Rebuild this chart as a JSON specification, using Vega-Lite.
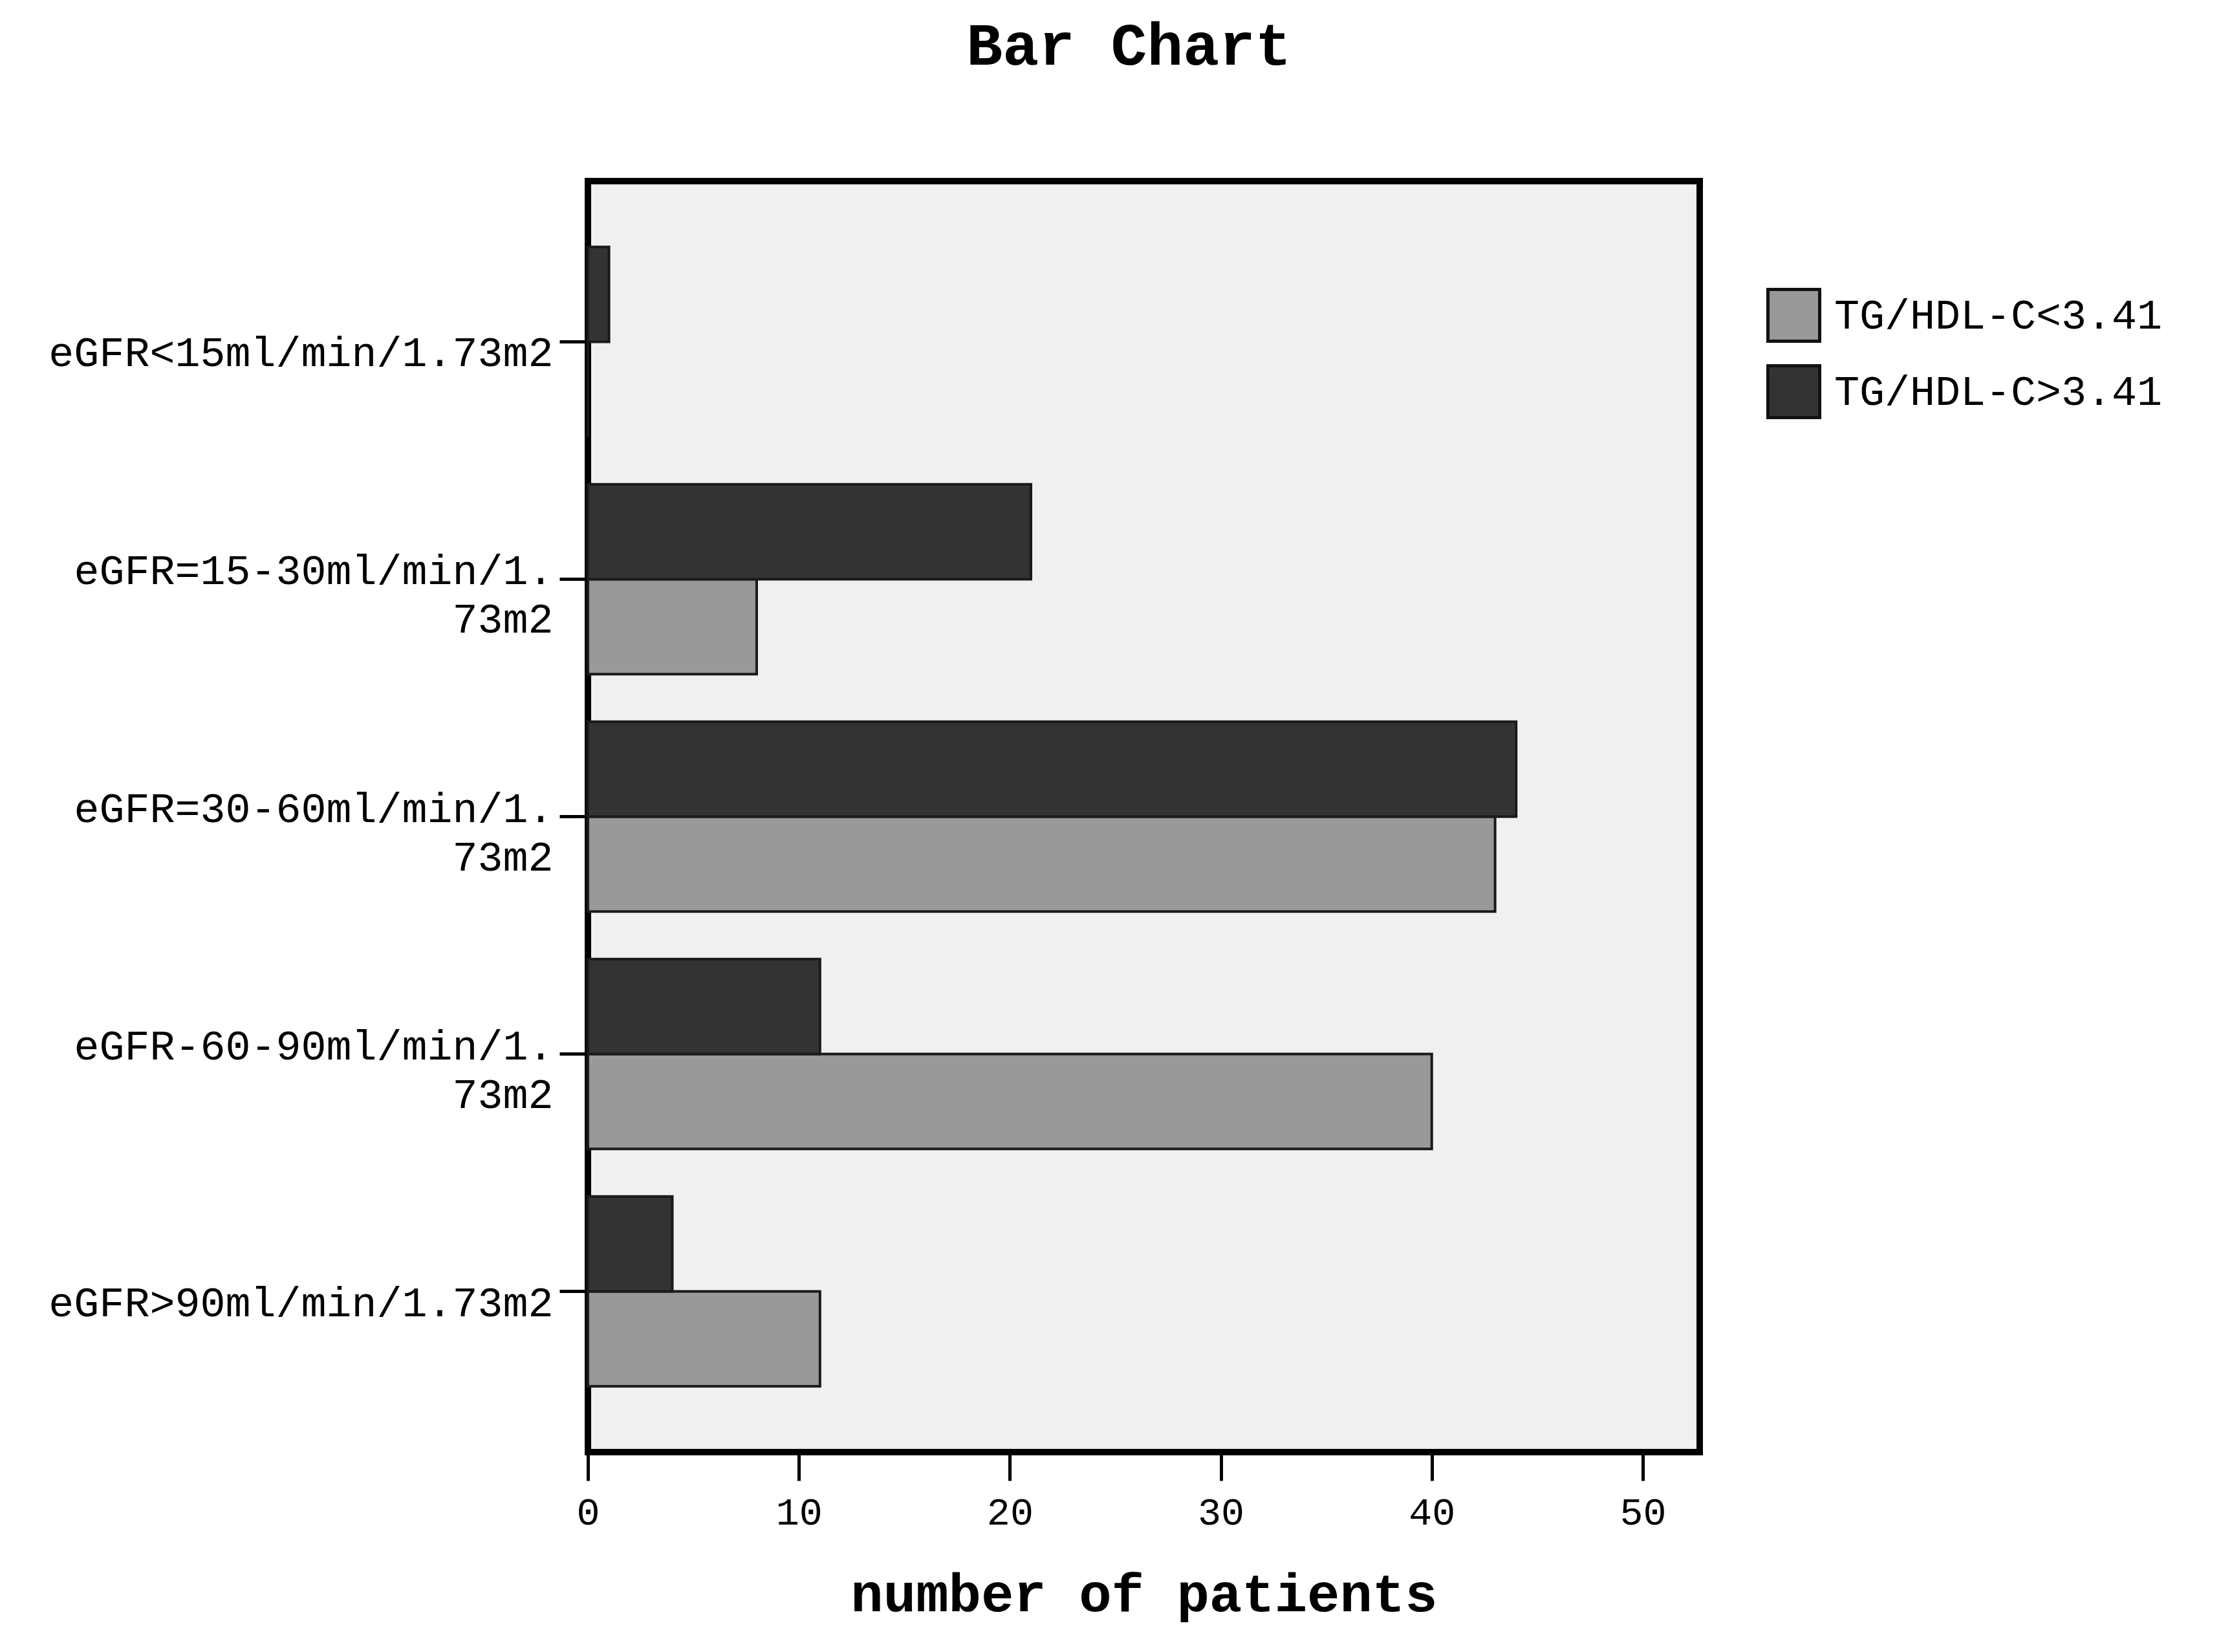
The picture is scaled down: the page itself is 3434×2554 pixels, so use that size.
{
  "$schema": "https://vega.github.io/schema/vega-lite/v6.json",
  "autosize": {"type": "none"},
  "padding": {"left": 909, "top": 280, "right": 806, "bottom": 309},
  "width": 1719,
  "height": 1965,
  "background": "white",
  "title": {
    "text": "Bar Chart",
    "font": "Liberation Mono",
    "fontSize": 93,
    "fontWeight": "bold",
    "color": "black",
    "anchor": "middle",
    "offset": 160,
    "dx": -23
  },
  "config": {
    "view": {"stroke": "black", "strokeWidth": 10, "fill": "#f0f0f0"}
  },
  "data": {
    "values": [
      {"eGFR": "eGFR<15ml/min/1.73m2", "group": "TG/HDL-C<3.41", "count": 0},
      {"eGFR": "eGFR<15ml/min/1.73m2", "group": "TG/HDL-C>3.41", "count": 1},
      {"eGFR": "eGFR=15-30ml/min/1.|73m2", "group": "TG/HDL-C<3.41", "count": 8},
      {"eGFR": "eGFR=15-30ml/min/1.|73m2", "group": "TG/HDL-C>3.41", "count": 21},
      {"eGFR": "eGFR=30-60ml/min/1.|73m2", "group": "TG/HDL-C<3.41", "count": 43},
      {"eGFR": "eGFR=30-60ml/min/1.|73m2", "group": "TG/HDL-C>3.41", "count": 44},
      {"eGFR": "eGFR-60-90ml/min/1.|73m2", "group": "TG/HDL-C<3.41", "count": 40},
      {"eGFR": "eGFR-60-90ml/min/1.|73m2", "group": "TG/HDL-C>3.41", "count": 11},
      {"eGFR": "eGFR>90ml/min/1.73m2", "group": "TG/HDL-C<3.41", "count": 11},
      {"eGFR": "eGFR>90ml/min/1.73m2", "group": "TG/HDL-C>3.41", "count": 4}
    ]
  },
  "mark": {"type": "bar", "stroke": "#1a1a1a", "strokeWidth": 4, "opacity": 1},
  "encoding": {
    "y": {
      "field": "eGFR",
      "type": "nominal",
      "sort": ["eGFR<15ml/min/1.73m2", "eGFR=15-30ml/min/1.|73m2", "eGFR=30-60ml/min/1.|73m2", "eGFR-60-90ml/min/1.|73m2", "eGFR>90ml/min/1.73m2"],
      "scale": {"paddingInner": 0.2, "paddingOuter": 0.277},
      "axis": {
        "title": null,
        "domain": false,
        "ticks": true,
        "tickSize": 44,
        "tickWidth": 5,
        "tickColor": "black",
        "labelFont": "Liberation Mono",
        "labelFontSize": 65,
        "labelColor": "black",
        "labelLimit": 2000,
        "labelPadding": 10,
        "labelBaseline": "middle",
        "labelOffset": {"condition": {"test": "indexof(datum.value, '|') >= 0", "value": -12}, "value": 18},
        "labelLineHeight": 75,
        "labelExpr": "split(datum.value, '|')"
      }
    },
    "yOffset": {
      "field": "group",
      "type": "nominal",
      "sort": ["TG/HDL-C>3.41", "TG/HDL-C<3.41"],
      "scale": {"paddingInner": 0, "paddingOuter": 0}
    },
    "x": {
      "field": "count",
      "type": "quantitative",
      "scale": {"domain": [0, 52.7], "nice": false, "zero": true},
      "axis": {
        "title": "number of patients",
        "titleFont": "Liberation Mono",
        "titleFontSize": 84,
        "titleFontWeight": "bold",
        "titleColor": "black",
        "titlePadding": 56,
        "values": [0, 10, 20, 30, 40, 50],
        "grid": false,
        "domain": false,
        "tickSize": 44,
        "tickWidth": 5,
        "tickColor": "black",
        "labelFont": "Liberation Mono",
        "labelFontSize": 60,
        "labelColor": "black",
        "labelPadding": 20,
        "labelFlush": false
      }
    },
    "color": {
      "field": "group",
      "type": "nominal",
      "scale": {"domain": ["TG/HDL-C<3.41", "TG/HDL-C>3.41"], "range": ["#999999", "#333333"]},
      "legend": {
        "title": null,
        "orient": "none",
        "legendX": 1822,
        "legendY": 165,
        "symbolType": "square",
        "symbolSize": 6400,
        "symbolStrokeColor": "#111111",
        "symbolStrokeWidth": 5,
        "symbolOpacity": 1,
        "labelFont": "Liberation Mono",
        "labelFontSize": 65,
        "labelColor": "black",
        "labelOffset": 20,
        "labelLimit": 2000,
        "rowPadding": 17
      }
    }
  }
}
